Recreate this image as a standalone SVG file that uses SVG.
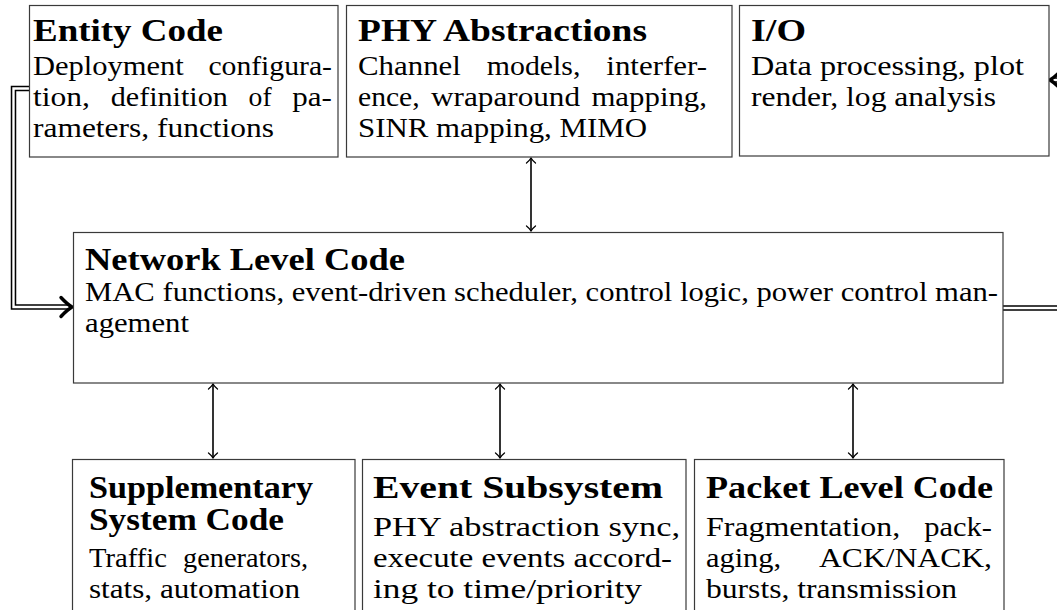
<svg xmlns="http://www.w3.org/2000/svg" width="1057" height="610" viewBox="0 0 1057 610">
<defs>
<style>
.box{fill:#fff;stroke:#3a3a3a;stroke-width:1.2}
.t{font-family:"Liberation Serif","Times New Roman",serif;font-weight:bold;font-size:31.5px;fill:#000}
.b{font-family:"Liberation Serif","Times New Roman",serif;font-size:28px;fill:#000}
.ln{stroke:#000;stroke-width:1.6;fill:none}
.dblo{stroke:#000;stroke-width:5.5;fill:none}
.dbli{stroke:#fff;stroke-width:2.4;fill:none}
.head{stroke:#000;stroke-width:3.4;fill:none;stroke-linecap:round;stroke-linejoin:round}
</style>
<marker id="to" viewBox="-6 -6 8 12" markerWidth="8" markerHeight="12" refX="0" refY="0" orient="auto-start-reverse" markerUnits="userSpaceOnUse">
<path d="M-5,-4.5 C-3,-2 -1,-0.6 0,0 C-1,0.6 -3,2 -5,4.5" stroke="#000" stroke-width="1.3" fill="none" stroke-linecap="round"/>
</marker>
</defs>
<rect width="1057" height="610" fill="#fff"/>

<g id="connectors">
<line class="ln" x1="531" y1="158" x2="531" y2="231" marker-start="url(#to)" marker-end="url(#to)"/>
<line class="ln" x1="213" y1="384" x2="213" y2="458" marker-start="url(#to)" marker-end="url(#to)"/>
<line class="ln" x1="500" y1="384" x2="500" y2="458" marker-start="url(#to)" marker-end="url(#to)"/>
<line class="ln" x1="853" y1="384" x2="853" y2="458" marker-start="url(#to)" marker-end="url(#to)"/>
<path class="dblo" d="M29,88.5 H13.5 V307 H70"/>
<path class="dbli" d="M29,88.5 H13.5 V307 H70"/>
<path class="head" d="M61,297.5 Q67,304 72,307 Q67,310 61,316.5"/>
<path class="dblo" d="M1003,308 H1072 V80 H1054"/>
<path class="dbli" d="M1003,308 H1072 V80 H1054"/>
<path class="head" d="M1061,70.5 Q1055,77 1050,80 Q1055,83 1061,89.5"/>
</g>

<g id="entity-code">
<rect class="box" x="29.5" y="5.5" width="308.5" height="151.5"/>
<text class="t" x="33" y="41" textLength="190" lengthAdjust="spacingAndGlyphs">Entity Code</text>
<text class="b" y="75"><tspan x="33" textLength="150.8" lengthAdjust="spacingAndGlyphs">Deployment</tspan> <tspan x="208.4" textLength="123.6" lengthAdjust="spacingAndGlyphs">configura-</tspan></text>
<text class="b" y="106"><tspan x="33" textLength="57" lengthAdjust="spacingAndGlyphs">tion,</tspan> <tspan x="110.7" textLength="117.2" lengthAdjust="spacingAndGlyphs">definition</tspan> <tspan x="248.6" textLength="23" lengthAdjust="spacingAndGlyphs">of</tspan> <tspan x="292.3" textLength="39.6" lengthAdjust="spacingAndGlyphs">pa-</tspan></text>
<text class="b" x="33" y="137" textLength="241" lengthAdjust="spacingAndGlyphs">rameters, functions</text>
</g>

<g id="phy-abstractions">
<rect class="box" x="346.5" y="5.5" width="385.5" height="151.5"/>
<text class="t" x="358" y="41" textLength="289" lengthAdjust="spacingAndGlyphs">PHY Abstractions</text>
<text class="b" y="75"><tspan x="358" textLength="102.9" lengthAdjust="spacingAndGlyphs">Channel</tspan> <tspan x="486.8" textLength="93.6" lengthAdjust="spacingAndGlyphs">models,</tspan> <tspan x="606.3" textLength="100.7" lengthAdjust="spacingAndGlyphs">interfer-</tspan></text>
<text class="b" y="106"><tspan x="358" textLength="61.7" lengthAdjust="spacingAndGlyphs">ence,</tspan> <tspan x="431" textLength="149.1" lengthAdjust="spacingAndGlyphs">wraparound</tspan> <tspan x="591.4" textLength="115.6" lengthAdjust="spacingAndGlyphs">mapping,</tspan></text>
<text class="b" x="358" y="137" textLength="289" lengthAdjust="spacingAndGlyphs">SINR mapping, MIMO</text>
</g>

<g id="io">
<rect class="box" x="739.5" y="5.5" width="309.5" height="150.5"/>
<text class="t" x="751" y="41" textLength="55" lengthAdjust="spacingAndGlyphs">I/O</text>
<text class="b" x="751" y="75" textLength="273" lengthAdjust="spacingAndGlyphs">Data processing, plot</text>
<text class="b" x="751" y="106" textLength="245" lengthAdjust="spacingAndGlyphs">render, log analysis</text>
</g>

<g id="network-level-code">
<rect class="box" x="73.5" y="232.5" width="929.5" height="150.5"/>
<text class="t" x="85" y="270" textLength="320" lengthAdjust="spacingAndGlyphs">Network Level Code</text>
<text class="b" x="85" y="301" textLength="913" lengthAdjust="spacingAndGlyphs">MAC functions, event-driven scheduler, control logic, power control man-</text>
<text class="b" x="85" y="332" textLength="104" lengthAdjust="spacingAndGlyphs">agement</text>
</g>

<g id="supplementary-system-code">
<rect class="box" x="72.5" y="459.5" width="282.5" height="160"/>
<text class="t" x="89" y="498" textLength="224" lengthAdjust="spacingAndGlyphs">Supplementary</text>
<text class="t" x="89" y="530" textLength="195" lengthAdjust="spacingAndGlyphs">System Code</text>
<text class="b" y="567"><tspan x="89" textLength="78" lengthAdjust="spacingAndGlyphs">Traffic</tspan> <tspan x="183" textLength="125" lengthAdjust="spacingAndGlyphs">generators,</tspan></text>
<text class="b" x="89" y="598" textLength="211" lengthAdjust="spacingAndGlyphs">stats, automation</text>
</g>

<g id="event-subsystem">
<rect class="box" x="362.5" y="459.5" width="323.5" height="160"/>
<text class="t" x="373" y="498" textLength="290" lengthAdjust="spacingAndGlyphs">Event Subsystem</text>
<text class="b" x="373" y="536" textLength="307" lengthAdjust="spacingAndGlyphs">PHY abstraction sync,</text>
<text class="b" x="373" y="567" textLength="299" lengthAdjust="spacingAndGlyphs">execute events accord-</text>
<text class="b" x="373" y="598" textLength="269" lengthAdjust="spacingAndGlyphs">ing to time/priority</text>
</g>

<g id="packet-level-code">
<rect class="box" x="694.5" y="459.5" width="309.5" height="160"/>
<text class="t" x="706" y="498" textLength="287" lengthAdjust="spacingAndGlyphs">Packet Level Code</text>
<text class="b" y="536"><tspan x="706" textLength="194.2" lengthAdjust="spacingAndGlyphs">Fragmentation,</tspan> <tspan x="924.2" textLength="67.8" lengthAdjust="spacingAndGlyphs">pack-</tspan></text>
<text class="b" y="567"><tspan x="706" textLength="75" lengthAdjust="spacingAndGlyphs">aging,</tspan> <tspan x="819" textLength="173" lengthAdjust="spacingAndGlyphs">ACK/NACK,</tspan></text>
<text class="b" x="706" y="598" textLength="251" lengthAdjust="spacingAndGlyphs">bursts, transmission</text>
</g>
</svg>
